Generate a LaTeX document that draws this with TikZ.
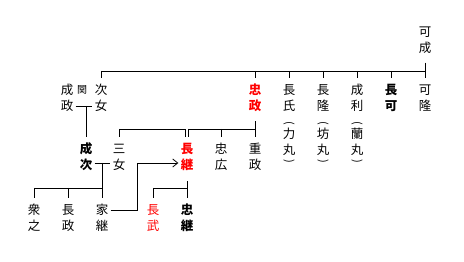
\documentclass[tikz,border=0pt]{standalone}
\usepackage{fontspec}
\newfontfamily\jp{Noto Sans CJK JP}
\usetikzlibrary{arrows.meta,positioning}
\newcommand\jpfont{\jp\fontsize{12.5}{16}\selectfont}

\begin{document}
\begin{tikzpicture}[x=1pt,y=-1pt,node distance=34pt,on grid,line width=0.8pt,
  kin/.style={font=\jpfont,align=center,inner xsep=2pt,inner ysep=6pt},
  main/.style={kin,font=\jpfont\bfseries},
  heir/.style={main,text=red},
  redkin/.style={kin,text=red},
  paren/.style={font=\jp\fontsize{11}{12}\selectfont,inner sep=0pt,rotate=-90}]
  \useasboundingbox (0,0) rectangle (464,262);
  \node[kin] (yoshinari) at (425,40) {可\\成};
  \node[kin] (jijo) at (101,98) {次\\女};
  \node[kin] (narimasa) at (67,98) {成\\政};
  \node[kin,font=\jp\fontsize{10}{12}\selectfont,inner sep=0pt] (seki) at (82,90) {関};
  \node[heir] (tadamasa) at (255,98) {忠\\政};
  \node[kin,right=of tadamasa] (nagauji) {長\\氏};
  \node[kin,right=of nagauji] (nagataka) {長\\隆};
  \node[kin,right=of nagataka] (naritoshi) {成\\利};
  \node[main,right=of naritoshi] (nagayoshi) {長\\可};
  \node[kin,right=of nagayoshi] (yoshitaka) {可\\隆};
  \node[kin,below=44pt of nagauji] (rikimaru) {力\\丸};
  \node[kin,below=44pt of nagataka] (bomaru) {坊\\丸};
  \node[kin,below=44pt of naritoshi] (ranmaru) {蘭\\丸};
  \foreach \k in {rikimaru,bomaru,ranmaru} {
    \node[paren,above=19pt of \k] (\k-l) {(};
    \node[paren,below=19pt of \k] (\k-r) {)};
  }
  \node[kin,below=59pt of tadamasa] (shigemasa) {重\\政};
  \node[kin,left=of shigemasa] (tadahiro) {忠\\広};
  \node[heir,left=of tadahiro] (nagatsugu) {長\\継};
  \node[kin,left=68pt of nagatsugu] (sanjo) {三\\女};
  \node[main,left=33pt of sanjo] (naritsugu) {成\\次};
  \node[main,below=61pt of nagatsugu] (tadatsugu) {忠\\継};
  \node[redkin,left=of tadatsugu] (nagatake) {長\\武};
  \node[kin] (ietsugu) at (102,218) {家\\継};
  \node[kin,left=of ietsugu] (nagamasa) {長\\政};
  \node[kin,left=of nagamasa] (moroyuki) {衆\\之};

  \coordinate (bus1) at (0,71);
  \draw[shorten <=3pt] (yoshinari) -- (yoshinari |- bus1);
  \draw (jijo |- bus1) -- (yoshitaka |- bus1);
  \foreach \k in {jijo,tadamasa,nagauji,nagataka,naritoshi,nagayoshi,yoshitaka}
    \draw (\k |- bus1) -- (\k);
  \coordinate (m1) at (86,106);
  \draw (narimasa.east |- m1) -- (jijo.west |- m1);
  \draw (m1) -- (naritsugu);

  \coordinate (bus2) at (0,129);
  \draw[shorten <=3pt] (tadamasa) -- (shigemasa);
  \draw (sanjo |- bus2) -- (tadamasa |- bus2);
  \foreach \k in {sanjo,tadahiro}
    \draw (\k |- bus2) -- (\k);
  \draw[double,double distance=2pt,line width=0.6pt] (nagatsugu |- bus2) -- (nagatsugu);

  \coordinate (m2) at (102,163);
  \draw (naritsugu.east |- m2) -- (sanjo.west |- m2);
  \draw (m2) -- (ietsugu);
  \coordinate (bus3) at (0,188);
  \draw (moroyuki |- bus3) -- (ietsugu |- bus3);
  \foreach \k in {moroyuki,nagamasa}
    \draw (\k |- bus3) -- (\k);
  \draw[shorten <=4pt] (nagatsugu) -- (tadatsugu);
  \draw (nagatake |- bus3) -- (tadatsugu |- bus3);
  \draw (nagatake |- bus3) -- (nagatake);

  \coordinate (turn) at (137,163);
  \draw[-{Straight Barb[length=5pt,width=8pt]}] ([yshift=8pt]ietsugu.east) -| (turn) -- (nagatsugu.west |- turn);
\end{tikzpicture}
\end{document}
